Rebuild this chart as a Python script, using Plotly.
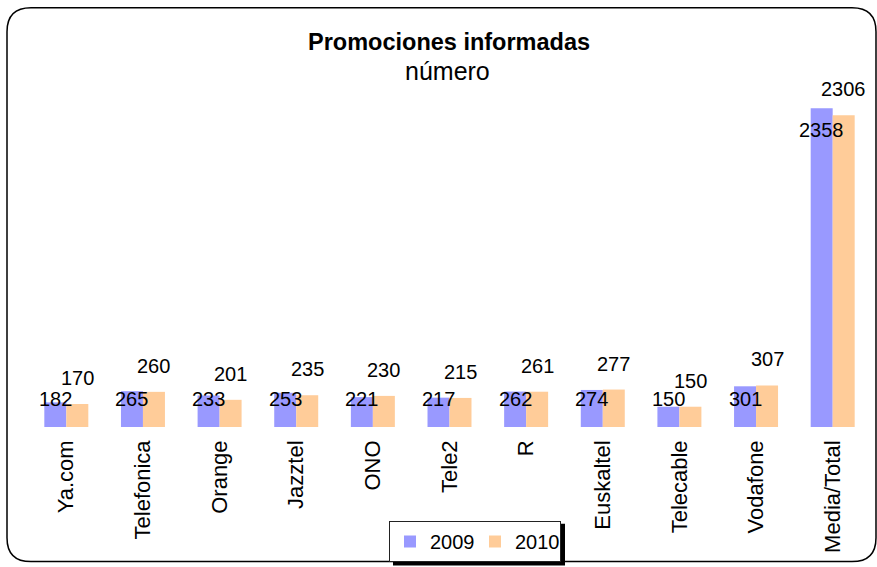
import plotly.graph_objects as go

categories = ["Ya.com", "Telefonica", "Orange", "Jazztel", "ONO", "Tele2", "R",
              "Euskaltel", "Telecable", "Vodafone", "Media/Total"]
values_2009 = [182, 265, 233, 253, 221, 217, 262, 274, 150, 301, 2358]
values_2010 = [170, 260, 201, 235, 230, 215, 261, 277, 150, 307, 2306]
series_names = ["2009", "2010"]

W, H = 877, 567
ML, MR, MT, MB = 28, 6, 89, 139
YMAX = 2500
plot_w = W - ML - MR
plot_h = H - MT - MB

def px_x(p):
    return (p - ML) / plot_w

def px_y(p):
    return (H - MB - p) / plot_h

FONT = "Liberation Sans, Arial, sans-serif"
C09 = "#9999FF"
C10 = "#FFCC99"
BARGAP = 0.426

fig = go.Figure()
fig.add_trace(go.Bar(x=categories, y=values_2009, name=series_names[0],
                     marker=dict(color=C09, line=dict(width=0))))
fig.add_trace(go.Bar(x=categories, y=values_2010, name=series_names[1],
                     marker=dict(color=C10, line=dict(width=0))))

bar_px = plot_w / len(categories) * (1 - BARGAP) / 2
units_per_px = YMAX / plot_h

annotations = []
for c, v in zip(categories, values_2009):
    if v < 1000:
        y = 206
    else:
        y = v - 22 * units_per_px
    annotations.append(dict(x=c, y=y, text=str(v), showarrow=False,
                            xshift=-bar_px / 2, yanchor="middle",
                            font=dict(family=FONT, size=20, color="black")))
for c, v in zip(categories, values_2010):
    annotations.append(dict(x=c, y=v, text=str(v), showarrow=False,
                            xshift=bar_px / 2, yanchor="bottom", yshift=13,
                            font=dict(family=FONT, size=20, color="black")))

# title texts
annotations.append(dict(xref="paper", yref="paper", x=px_x(449), y=px_y(42),
                        text="<b>Promociones informadas</b>", showarrow=False,
                        xanchor="center", yanchor="middle",
                        font=dict(family=FONT, size=23.5, color="black")))
annotations.append(dict(xref="paper", yref="paper", x=px_x(447), y=px_y(71),
                        text="número", showarrow=False,
                        xanchor="center", yanchor="middle",
                        font=dict(family=FONT, size=25, color="black")))

# rounded border
L, T, R, B, r = 7, 7.5, 876, 563, 24
def P(x, y):
    return f"{px_x(x):.5f},{px_y(y):.5f}"
path = (f"M{P(L + r, T)} L{P(R - r, T)} Q{P(R, T)} {P(R, T + r)} "
        f"L{P(R, B - r)} Q{P(R, B)} {P(R - r, B)} "
        f"L{P(L + r, B)} Q{P(L, B)} {P(L, B - r)} "
        f"L{P(L, T + r)} Q{P(L, T)} {P(L + r, T)} Z")

LEG_X = 389
shapes = [
    dict(type="path", xref="paper", yref="paper", path=path,
         line=dict(color="black", width=1.5), layer="above"),
    dict(type="rect", xref="paper", yref="paper",
         x0=px_x(LEG_X + 4), x1=px_x(LEG_X + 176), y0=px_y(525), y1=px_y(567),
         fillcolor="black", line=dict(width=0), layer="above"),
]

fig.update_layout(
    width=W, height=H,
    margin=dict(l=ML, r=MR, t=MT, b=MB),
    paper_bgcolor="white", plot_bgcolor="white",
    barmode="group", bargap=BARGAP, bargroupgap=0,
    showlegend=True,
    legend=dict(orientation="h", x=px_x(LEG_X), y=px_y(521),
                xanchor="left", yanchor="top",
                bgcolor="white", bordercolor="#222", borderwidth=1,
                font=dict(family=FONT, size=20, color="black"),
                itemwidth=30, entrywidth=40, traceorder="normal"),
    xaxis=dict(tickangle=-90, showgrid=False, showline=False, ticks="",
               tickfont=dict(family=FONT, size=22, color="black"),
               ticklabelstandoff=8, zeroline=False),
    yaxis=dict(range=[0, YMAX], visible=False, showgrid=False, zeroline=False),
    annotations=annotations,
    shapes=shapes,
)

fig.write_html("out.html", config={"displayModeBar": False},
               post_script="document.body.style.margin='0';")
